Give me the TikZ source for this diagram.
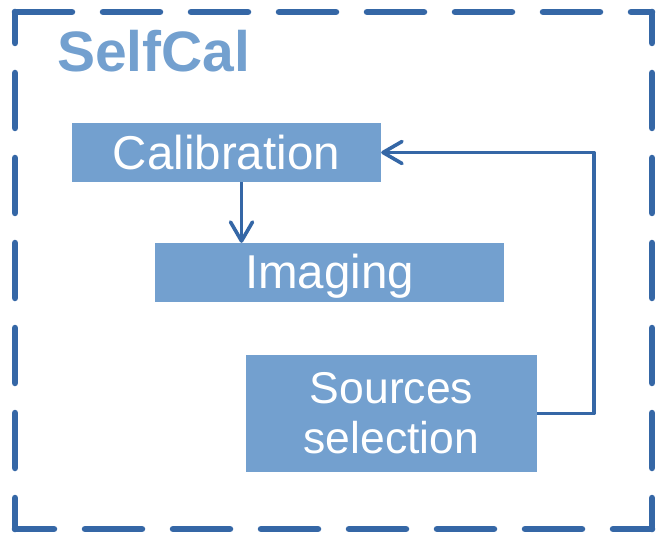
\documentclass[tikz,border=0pt]{standalone}
\usepackage{fontspec}
\setmainfont{Liberation Sans}
\usetikzlibrary{arrows.meta}
\definecolor{framecol}{RGB}{53,103,166}
\definecolor{boxcol}{RGB}{115,160,207}
\begin{document}
\begin{tikzpicture}[x=1pt,y=-1pt,
  framestyle/.style={draw=framecol,line width=6.5pt,line cap=round},
  procbox/.style={fill=boxcol,text=white,inner sep=0pt,align=center,
    font=\fontsize{47.5}{57}\selectfont},
  conn/.style={draw=framecol,line width=3.6pt,line join=round,
    -{Straight Barb[length=19pt,width=22pt,line width=3.6pt,round]}}]
\useasboundingbox (0,0) rectangle (656,540);
% dashed frame
\draw[framestyle,dash pattern=on 57pt off 31pt,dash phase=0pt] (15,12) -- (652,12);
\draw[framestyle,dash pattern=on 57pt off 31pt,dash phase=18pt] (15,529) -- (652,529);
\draw[framestyle,dash pattern=on 55pt off 30pt,dash phase=24pt] (15,12) -- (15,529);
\draw[framestyle,dash pattern=on 55pt off 30pt,dash phase=24pt] (652,12) -- (652,529);
% title
\node[anchor=base west,inner sep=0pt,text=boxcol,font=\fontsize{57}{60}\selectfont\bfseries] (title) at (57,72) {SelfCal};
% boxes
\node[procbox,minimum width=309pt,minimum height=59pt] (cal) at (226.5,152.5) {Calibration};
\node[procbox,minimum width=349pt,minimum height=59pt,text depth=2pt] (img) at (329.5,272.5) {Imaging};
\node[procbox,minimum width=291pt,minimum height=117pt,font=\fontsize{44.5}{50}\selectfont] (src) at (391.5,413.5) {Sources\\selection};
% connectors
\draw[conn] ([xshift=15pt]cal.south) -- ([xshift=15pt]cal.south |- img.north);
\coordinate (fb) at (594,152.5);
\draw[conn] (src.east) -| (fb) -- (cal.east);
\end{tikzpicture}
\end{document}
